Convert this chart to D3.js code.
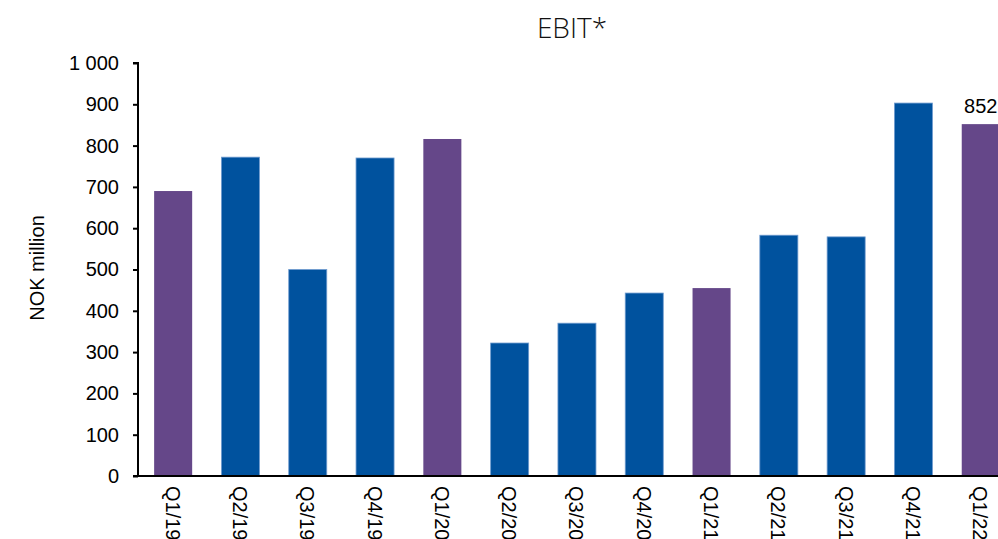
<!DOCTYPE html>
<html>
<head>
<meta charset="utf-8">
<script src="https://cdn.jsdelivr.net/npm/d3@7"></script>
<style>
  body { margin: 0; background: #fff; }
  svg { display: block; font-family: "Liberation Sans", Arial, sans-serif; }
</style>
</head>
<body>
<svg id="chart" width="998" height="539"></svg>
<script>
// data
const quarters = ['Q1/19','Q2/19','Q3/19','Q4/19','Q1/20','Q2/20','Q3/20','Q4/20','Q1/21','Q2/21','Q3/21','Q4/21','Q1/22'];
const ebit = [690, 772, 500, 770, 816, 322, 370, 443, 455, 583, 579, 903, 852];
const yTicks = [0, 100, 200, 300, 400, 500, 600, 700, 800, 900, 1000];
const labelled = ['Q1/22'];

const purple = '#654789';
const blue = '#00529e';

const svg = d3.select('#chart');
const plotLeft = 138, plotBottom = 476, plotTop = 63;

const x = d3.scaleBand()
  .domain(quarters)
  .range([plotLeft + 1.5, plotLeft + 1.5 + 13 * 67.3])
  .paddingInner(0.435)
  .paddingOuter(0.2175);

const y = d3.scaleLinear()
  .domain([0, 1000])
  .range([plotBottom, plotTop]);

// bars (Q1 in purple)
svg.append('g')
  .selectAll('rect')
  .data(quarters)
  .enter()
  .append('rect')
  .attr('x', d => x(d))
  .attr('y', (d, i) => y(ebit[i]))
  .attr('width', x.bandwidth())
  .attr('height', (d, i) => plotBottom - y(ebit[i]))
  .attr('fill', d => d.startsWith('Q1') ? purple : blue)
  .attr('stroke', d => d.startsWith('Q1') ? 'none' : '#6f9bcf')
  .attr('stroke-width', 0.8);

// y axis
const yAxis = d3.axisLeft(y)
  .tickValues(yTicks)
  .tickSize(5)
  .tickFormat(d => d3.format(',')(d).replace(',', ' '));

const gy = svg.append('g')
  .attr('transform', `translate(${plotLeft},0)`)
  .call(yAxis);
gy.select('.domain').attr('stroke', '#000').attr('stroke-width', 2)
  .attr('d', `M-5,${plotTop}H0V${plotBottom}`);
gy.selectAll('.tick line').attr('stroke', '#000').attr('stroke-width', 2);
gy.selectAll('.tick text')
  .attr('x', -19)
  .attr('font-family', '"Liberation Sans", Arial, sans-serif')
  .attr('font-size', 20)
  .attr('fill', '#000');

// x baseline
svg.append('line')
  .attr('x1', plotLeft - 5)
  .attr('x2', 998)
  .attr('y1', plotBottom)
  .attr('y2', plotBottom)
  .attr('stroke', '#000')
  .attr('stroke-width', 2);

// x labels, rotated
svg.append('g')
  .selectAll('text')
  .data(quarters)
  .enter()
  .append('text')
  .attr('transform', d => `translate(${x(d) + x.bandwidth() / 2 - 7.5},486) rotate(90)`)
  .attr('font-size', 20)
  .attr('fill', '#000')
  .text(d => d);

// value label
svg.append('g')
  .selectAll('text')
  .data(labelled)
  .enter()
  .append('text')
  .attr('x', d => x(d) + x.bandwidth() / 2)
  .attr('y', d => y(ebit[quarters.indexOf(d)]) - 11)
  .attr('text-anchor', 'middle')
  .attr('font-size', 20)
  .attr('fill', '#000')
  .text(d => ebit[quarters.indexOf(d)]);

// axis title
svg.append('text')
  .attr('transform', 'translate(44,268) rotate(-90)')
  .attr('text-anchor', 'middle')
  .attr('font-size', 20)
  .attr('fill', '#000')
  .text('NOK million');

// chart title
svg.append('text')
  .attr('x', 572)
  .attr('y', 38)
  .attr('text-anchor', 'middle')
  .attr('font-size', 28)
  .attr('font-family', '"Open Sans", sans-serif')
  .attr('font-weight', 300)
  .attr('fill', '#111')
  .text('EBIT*');
</script>
</body>
</html>
